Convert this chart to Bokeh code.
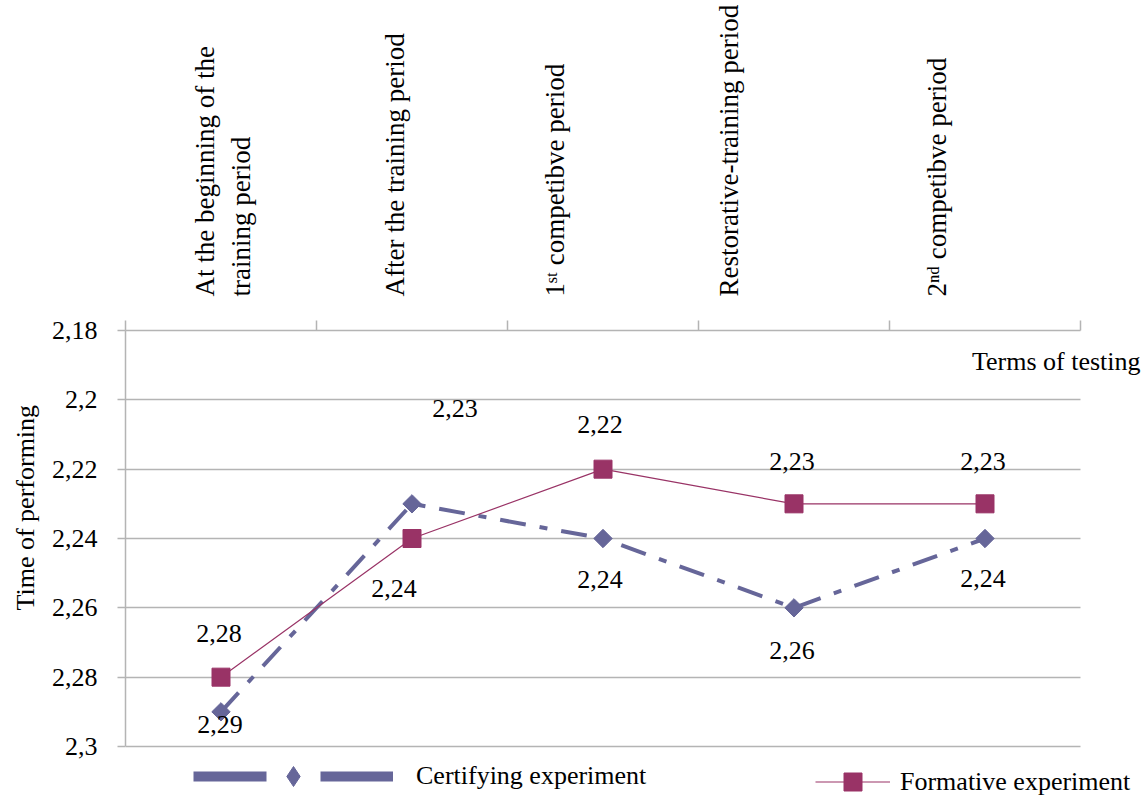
import math
import numpy as np
from bokeh.plotting import figure
from bokeh.models import (Range1d, FixedTicker, CustomJSTickFormatter, Legend,
                          LegendItem, Label, ColumnDataSource, Title)
from bokeh.core.properties import value
from bokeh.embed import file_html
from bokeh.resources import INLINE

# ---------------- data ----------------
categories = [
    "At the beginning of the\ntraining period",
    "After the training period",
    "1\u02e2\u1d57 competibve period",
    "Restorative-training period",
    "2\u207f\u1d48 competibve period",
]
certifying = [2.29, 2.23, 2.24, 2.26, 2.24]
formative = [2.28, 2.24, 2.22, 2.23, 2.23]
y_ticks = [2.18, 2.20, 2.22, 2.24, 2.26, 2.28, 2.30]
y_tick_labels = ["2,18", "2,2", "2,22", "2,24", "2,26", "2,28", "2,3"]

# ---------------- style / layout ----------------
CERT = "#666699"
FORM = "#993366"
GRID = "#b4b4b4"
FONT = "Liberation Serif"
FS = "26px"
W, H = 1143, 796
LEFT, TOP = 125, 330          # plot-area corner in px
AREA_W, AREA_H = 955, 416     # plot-area size in px (gridded part)
# horizontal shift of each rotated category label (in category widths)
cat_label_shift = [0.01, -0.09, -0.25, -0.34, -0.25]
# pixel offsets of value labels (dx, dy; dy positive = down)
form_dx = [-2, -18, -3, -2, -2]
form_dy = [-44, 50, -45, -42, -42]
cert_dx = [-1, 43, -3, -2, -2]
cert_dy = [13, -95, 41, 43, 40]

n = len(categories)
xs = [i + 0.5 for i in range(n)]
y_top, y_bot = y_ticks[0], y_ticks[-1]
# the frame extends past the gridded area so the legend and axis title are not clipped
x_end = n * (W - LEFT) / AREA_W
y_end = y_top + (y_bot - y_top) * (H - TOP) / AREA_H

p = figure(width=W, height=H,
           x_range=Range1d(0, x_end), y_range=Range1d(y_end, y_top),
           x_axis_location="above",
           output_backend="svg", toolbar_location=None,
           min_border_left=LEFT, min_border_right=0,
           min_border_top=TOP, min_border_bottom=0)
p.outline_line_color = None
p.background_fill_color = "white"
p.border_fill_color = "white"

# top (category) axis
xa = p.xaxis[0]
label_ticks = [x + s for x, s in zip(xs, cat_label_shift)]
xa.bounds = (0, n)
xa.ticker = FixedTicker(ticks=label_ticks, minor_ticks=list(range(n + 1)))
xa.formatter = CustomJSTickFormatter(
    args=dict(vals=label_ticks, labs=categories),
    code="for (let j = 0; j < vals.length; j++) { if (Math.abs(vals[j] - tick) < 1e-6) return labs[j]; } return '';")
xa.major_tick_out = 0
xa.major_tick_in = 0
xa.major_tick_line_color = None
xa.minor_tick_out = 10
xa.minor_tick_in = 0
xa.minor_tick_line_color = GRID
xa.minor_tick_line_width = 1.5
xa.axis_line_color = GRID
xa.axis_line_width = 1.5
xa.major_label_orientation = math.pi / 2
xa.major_label_standoff = 24
xa.major_label_text_font = FONT
xa.major_label_text_font_size = "27px"
xa.major_label_text_color = "black"

# left (value) axis
ya = p.yaxis[0]
ya.bounds = (y_top, y_bot)
ya.ticker = FixedTicker(ticks=y_ticks)
ya.formatter = CustomJSTickFormatter(
    args=dict(vals=y_ticks, labs=y_tick_labels),
    code="for (let j = 0; j < vals.length; j++) { if (Math.abs(vals[j] - tick) < 1e-6) return labs[j]; } return '';")
ya.major_tick_out = 8
ya.major_tick_in = 0
ya.major_tick_line_color = GRID
ya.major_tick_line_width = 1.5
ya.minor_tick_line_color = None
ya.axis_line_color = GRID
ya.axis_line_width = 1.5
ya.major_label_standoff = 20
ya.major_label_text_font = FONT
ya.major_label_text_font_size = FS
ya.major_label_text_color = "black"

# y-axis title (as a side title so it can sit where the reference has it)
p.add_layout(Title(text="Time of  performing", align="left", offset=186,
                   text_font=FONT, text_font_size=FS, text_font_style="normal",
                   text_color="black", standoff=17), "left")

p.xgrid.visible = False
p.ygrid.ticker = FixedTicker(ticks=y_ticks)
p.ygrid.bounds = (y_top, y_bot)
p.ygrid.cross_bounds = (0, n)
p.ygrid.grid_line_color = GRID
p.ygrid.grid_line_width = 1.5

# series
cert_src = ColumnDataSource(dict(
    x=xs, y=certifying,
    lab=[f"{v:.2f}".replace(".", ",") for v in certifying],
    dx=cert_dx, dy=cert_dy))
form_src = ColumnDataSource(dict(
    x=xs, y=formative,
    lab=[f"{v:.2f}".replace(".", ",") for v in formative],
    dx=form_dx, dy=form_dy))

cert_line = p.line("x", "y", source=cert_src, line_color=CERT, line_width=4,
                   line_dash="26 14 8 14")
form_line = p.line("x", "y", source=form_src, line_color=FORM, line_width=1.2)
cert_pts = p.scatter("x", "y", source=cert_src, marker="square", size=13,
                     angle=math.pi / 4, fill_color=CERT, line_color=CERT)
form_pts = p.scatter("x", "y", source=form_src, marker="square", size=18,
                     fill_color=FORM, line_color=FORM)

for src in (cert_src, form_src):
    p.text("x", "y", text="lab", source=src, x_offset="dx", y_offset="dy",
           text_align="center", text_baseline="middle",
           text_font=value(FONT), text_font_size=FS, text_color="black")

# x-axis title
p.add_layout(Label(x=n, y=2.1889, x_offset=60, text="Terms of testing",
                   text_align="right", text_baseline="alphabetic",
                   text_font=FONT, text_font_size=FS, text_color="black"))

# legend-only renderers (no visible data) for the certifying key
nan = np.array([np.nan])
leg_line = p.line(x=nan, y=nan, line_color=CERT, line_width=10, line_dash="73 54")
leg_mark = p.scatter(x=nan, y=nan, marker="diamond", fill_color=CERT,
                     line_color=CERT)
legend1 = Legend(items=[LegendItem(label="Certifying experiment",
                                   renderers=[leg_line, leg_mark])],
                 location=(68, -5), orientation="horizontal",
                 glyph_width=200, glyph_height=50, label_standoff=23,
                 padding=0, margin=0, border_line_color=None,
                 background_fill_alpha=0,
                 label_text_font=FONT, label_text_font_size=FS,
                 label_text_color="black")
legend2 = Legend(items=[LegendItem(label="Formative experiment",
                                   renderers=[form_line, form_pts])],
                 location=(690, -8), orientation="horizontal",
                 glyph_width=75, glyph_height=45, label_standoff=10,
                 padding=0, margin=0, border_line_color=None,
                 background_fill_alpha=0,
                 label_text_font=FONT, label_text_font_size=FS,
                 label_text_color="black")
p.add_layout(legend1)
p.add_layout(legend2)

open("out.html", "w").write(file_html(p, INLINE))
